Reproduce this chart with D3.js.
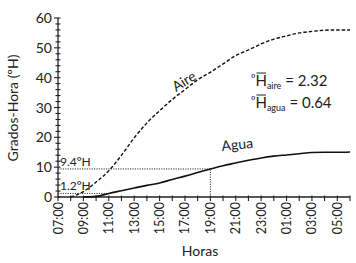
<!DOCTYPE html>
<html>
<head>
<meta charset="utf-8">
<script src="https://cdn.jsdelivr.net/npm/d3@7"></script>
<style>
body { margin: 0; background: #fff; }
svg { font-family: Lato, "Open Sans", sans-serif; }
</style>
</head>
<body>
<svg width="356" height="263"></svg>
<script>
// hours from 07:00 to 06:00 next day
var hours = ["07:00","08:00","09:00","10:00","11:00","12:00","13:00","14:00","15:00","16:00","17:00","18:00",
	"19:00","20:00","21:00","22:00","23:00","00:00","01:00","02:00","03:00","04:00","05:00","06:00"];
var aire = [null, 0, 1.8, 5, 8.8, 14, 19.8, 24.8, 28.9, 32.7, 36, 39.3, 41.8, 44.6, 47.4, 49.3, 51.3, 52.9, 54, 55, 55.5, 55.9, 56, 56];
var agua = [null, null, 0, 0.2, 1.2, 2.1, 3.0, 3.9, 4.7, 5.9, 7.0, 8.2, 9.4, 10.5, 11.4, 12.3, 13.1, 13.7, 14.1, 14.5, 14.9, 15.0, 15.0, 15.1];
var yTicks = [0, 10, 20, 30, 40, 50, 60];
var marks = [{ value: 9.4, hour: 12, label: "9.4\u00baH" }, { value: 1.2, hour: 4, label: "1.2\u00baH" }];

var svg = d3.select("svg");
var x = d3.scaleLinear().domain([0, hours.length - 1]).range([58, 350]);
var y = d3.scaleLinear().domain([0, 60]).range([197, 18]);

// y axis
svg.append("line").attr("x1", x(0)).attr("x2", x(0)).attr("y1", y(0)).attr("y2", y(60))
	.attr("stroke", "#222").attr("stroke-width", 1.3);
d3.range(0, 61, 2).forEach(function(v){
	var major = v % 10 == 0;
	svg.append("line").attr("x1", x(0) - (major ? 4 : 2.5)).attr("x2", x(0) + 2.5)
		.attr("y1", y(v)).attr("y2", y(v)).attr("stroke", "#222").attr("stroke-width", 1.1);
});
svg.selectAll(".ytick").data(yTicks).enter().append("text")
	.attr("x", x(0) - 6).attr("y", function(d){ return y(d); }).attr("dy", "0.36em")
	.attr("text-anchor", "end").attr("font-size", 14).attr("fill", "#222")
	.text(function(d){ return d; });

// x axis
svg.append("line").attr("x1", x(0)).attr("x2", x(hours.length - 1)).attr("y1", y(0)).attr("y2", y(0))
	.attr("stroke", "#222").attr("stroke-width", 1.3);
hours.forEach(function(h, i){
	svg.append("line").attr("x1", x(i)).attr("x2", x(i)).attr("y1", y(0) - 1.5).attr("y2", y(0) + 4)
		.attr("stroke", "#222").attr("stroke-width", 1.1);
	if (i % 2 == 0) {
		svg.append("text").attr("transform", "translate(" + x(i) + "," + (y(0) + 5) + ") rotate(-90)")
			.attr("dy", "0.36em").attr("text-anchor", "end").attr("font-size", 12.5).attr("fill", "#222")
			.text(h);
	}
});

// guide lines
marks.forEach(function(m){
	svg.append("line").attr("x1", x(0)).attr("x2", x(m.hour)).attr("y1", y(m.value)).attr("y2", y(m.value))
		.attr("stroke", "#333").attr("stroke-width", 1).attr("stroke-dasharray", "1.2,1.2");
	svg.append("text").attr("x", x(0) + 2).attr("y", y(m.value) - 3).attr("font-size", 12).attr("fill", "#222")
		.text(m.label);
});
svg.append("line").attr("x1", x(12)).attr("x2", x(12)).attr("y1", y(0)).attr("y2", y(9.4))
	.attr("stroke", "#333").attr("stroke-width", 1).attr("stroke-dasharray", "1.2,1.2");

// curves
var line = d3.line()
	.defined(function(d){ return d != null; })
	.x(function(d, i){ return x(i); })
	.y(function(d){ return y(d); })
	.curve(d3.curveMonotoneX);

svg.append("path").datum(aire).attr("fill", "none").attr("stroke", "#111")
	.attr("stroke-width", 1.4).attr("stroke-dasharray", "3.5,2").attr("d", line);
svg.append("path").datum(agua).attr("fill", "none").attr("stroke", "#111")
	.attr("stroke-width", 1.6).attr("d", line);

// labels
svg.append("text").attr("transform", "translate(176,92) rotate(-32)").attr("font-size", 14).attr("fill", "#222").text("Aire");
svg.append("text").attr("transform", "translate(222,151) rotate(-6)").attr("font-size", 14).attr("fill", "#222").text("Agua");

var ann = [{ sub: "aire", val: "2.32", yy: 86 }, { sub: "agua", val: "0.64", yy: 108 }];
ann.forEach(function(a){
	var t = svg.append("text").attr("x", 251).attr("y", a.yy).attr("font-size", 15).attr("fill", "#222");
	t.append("tspan").attr("font-size", 11).attr("dy", "-4").text("\u00ba");
	t.append("tspan").attr("dy", "4").text("H");
	t.append("tspan").attr("font-size", 9).attr("dy", "3").text(a.sub);
	t.append("tspan").attr("dy", "-3").text(" = " + a.val);
	// overbar over the H
	svg.append("line").attr("x1", 256.5).attr("x2", 266).attr("y1", a.yy - 13).attr("y2", a.yy - 13)
		.attr("stroke", "#222").attr("stroke-width", 1);
});

svg.append("text").attr("transform", "translate(18,108) rotate(-90)").attr("text-anchor", "middle")
	.attr("font-size", 14).attr("fill", "#222").text("Grados-Hora (\u00baH)");
svg.append("text").attr("x", 200).attr("y", 256).attr("text-anchor", "middle")
	.attr("font-size", 14).attr("fill", "#222").text("Horas");
</script>
</body>
</html>
